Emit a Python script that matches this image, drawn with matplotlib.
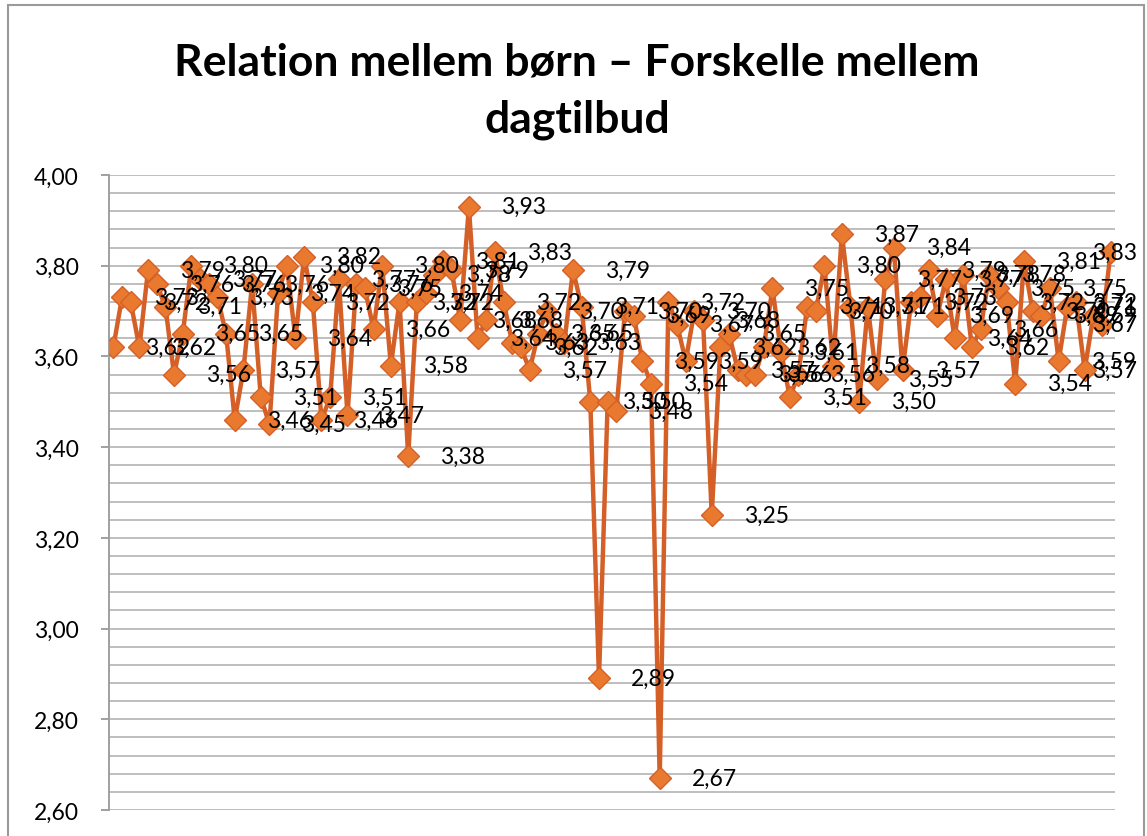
import matplotlib
matplotlib.use('Agg')
import matplotlib.pyplot as plt
from matplotlib.patches import Rectangle
import numpy as np

title = "Relation mellem børn – Forskelle mellem\ndagtilbud"

values = [
    3.62, 3.73, 3.72, 3.62, 3.79, 3.76, 3.71, 3.56, 3.65, 3.80,
    3.77, 3.76, 3.73, 3.65, 3.46, 3.57, 3.76, 3.51, 3.45, 3.74,
    3.80, 3.64, 3.82, 3.72, 3.46, 3.51, 3.77, 3.47, 3.76, 3.75,
    3.66, 3.80, 3.58, 3.72, 3.38, 3.72, 3.74, 3.78, 3.81, 3.79,
    3.68, 3.93, 3.64, 3.68, 3.83, 3.72, 3.63, 3.62, 3.57, 3.65,
    3.70, 3.65, 3.63, 3.79, 3.71, 3.50, 2.89, 3.50, 3.48, 3.70,
    3.69, 3.59, 3.54, 2.67, 3.72, 3.67, 3.59, 3.70, 3.68, 3.25,
    3.62, 3.65, 3.57, 3.56, 3.56, 3.62, 3.75, 3.61, 3.51, 3.56,
    3.71, 3.70, 3.80, 3.58, 3.87, 3.71, 3.50, 3.71, 3.55, 3.77,
    3.84, 3.57, 3.72, 3.73, 3.79, 3.69, 3.77, 3.64, 3.78, 3.62,
    3.66, 3.78, 3.75, 3.72, 3.54, 3.81, 3.70, 3.69, 3.75, 3.59,
    3.71, 3.72, 3.57, 3.69, 3.67, 3.83,
]
categories = list(range(1, len(values) + 1))
y_major = [2.60, 2.80, 3.00, 3.20, 3.40, 3.60, 3.80, 4.00]
y_labels = ["2,60", "2,80", "3,00", "3,20", "3,40", "3,60", "3,80", "4,00"]

plt.rcParams['font.family'] = ['Lato', 'DejaVu Sans']

W, H = 1147, 837
fig = plt.figure(figsize=(W / 100, H / 100), dpi=100)
ax = fig.add_axes([109 / W, 1 - 811 / H, (1115 - 109) / W, (811 - 176) / H])

x = np.arange(len(categories))
ax.plot(x, values, color='#D45F27', lw=3.2, marker='D', ms=11,
        mfc='#E8792E', mec='#D45F27', mew=1.0, zorder=3)

ax.set_xlim(-0.5, len(categories) - 0.5)
ax.set_ylim(2.6, 4.0)

# data labels right of each point, kept inside the chart border like Excel does
right_limit = 1136  # px
label_w = 44        # px, approx width of "3,62"
for xi, v in zip(x, values):
    px = ax.transData.transform((xi, v))[0]
    off = min(32, right_limit - label_w - px)
    ax.annotate(f"{v:.2f}".replace('.', ','), (xi, v), xytext=(off, 0),
                textcoords='offset pixels', ha='left', va='center',
                fontsize=16.5, color='black', zorder=4)

ax.set_yticks(y_major)
ax.set_yticklabels(y_labels)
ax.set_yticks(np.arange(2.60, 4.001, 0.04), minor=True)
ax.grid(which='both', axis='y', color='#BEBEBE', lw=1.4)
ax.set_xticks([])
ax.set_axisbelow(True)
for s in ['top', 'right', 'bottom']:
    ax.spines[s].set_visible(False)
ax.spines['left'].set_color('#A0A0A0')
ax.spines['left'].set_linewidth(1.4)
ax.tick_params(axis='y', which='major', length=6, color='#A0A0A0', width=1.4,
               labelsize=16.5, pad=16)
ax.tick_params(axis='y', which='minor', length=0)

fig.text(577 / W, 1 - 91 / H, title, ha='center', va='center',
         multialignment='center', fontsize=32, fontweight='bold',
         linespacing=1.5, color='black')

fig.add_artist(Rectangle((8 / W, -0.05), (1144 - 8) / W, 1 - 6 / H + 0.05,
                         transform=fig.transFigure, fill=False,
                         edgecolor='#9A9A9A', lw=1.5))

fig.savefig('out.png', dpi=100)
